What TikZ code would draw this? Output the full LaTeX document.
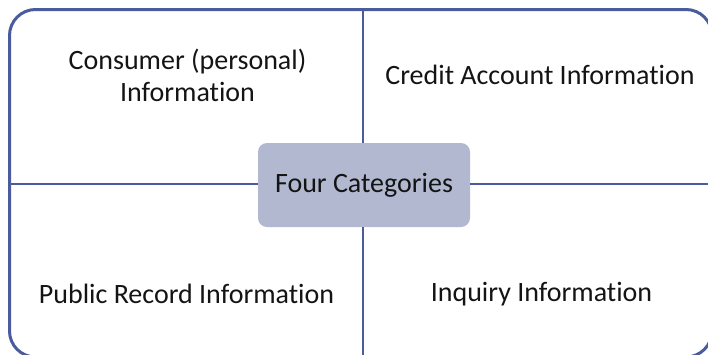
\documentclass[tikz,border=0pt]{standalone}
\usepackage{fontspec}
\setmainfont{Carlito}[Ligatures={NoCommon}]
\definecolor{edgeblue}{RGB}{74,92,155}
\definecolor{boxfill}{RGB}{177,184,207}
\begin{document}
\begin{tikzpicture}[x=1pt,y=-1pt,
  quadtext/.style={font=\fontsize{28}{32}\selectfont, text=black!92, align=center, inner sep=0pt},
  centerbox/.style={fill=boxfill, rounded corners=9pt, minimum width=212pt, minimum height=84pt, inner sep=0pt, font=\fontsize{28}{32}\selectfont, text=black!92},
  divider/.style={draw=edgeblue, line width=1.8pt},
  frame/.style={draw=edgeblue, line width=3pt, rounded corners=26pt}]
\useasboundingbox (0,0) rectangle (708,354);
\draw[frame] (9.5,9.5) rectangle (712,357);
\coordinate (top) at (363,10);
\coordinate (bottom) at (363,356);
\coordinate (left) at (10,184);
\coordinate (right) at (711,184);
\node[centerbox] (c) at (364,185) {Four Categories};
\draw[divider] (c.north -| top) -- (top);
\draw[divider] (c.south -| top) -- (bottom);
\draw[divider] (c.west |- left) -- (left);
\draw[divider] (c.east |- left) -- (right);
\node[quadtext] (consumer) at (187.5,75) {Consumer (personal)\\Information};
\node[quadtext] (credit) at (540,75) {Credit Account Information};
\node[quadtext] (public) at (186.5,294) {Public Record Information};
\node[quadtext] (inquiry) at (541.5,294) {Inquiry Information};
\end{tikzpicture}
\end{document}
